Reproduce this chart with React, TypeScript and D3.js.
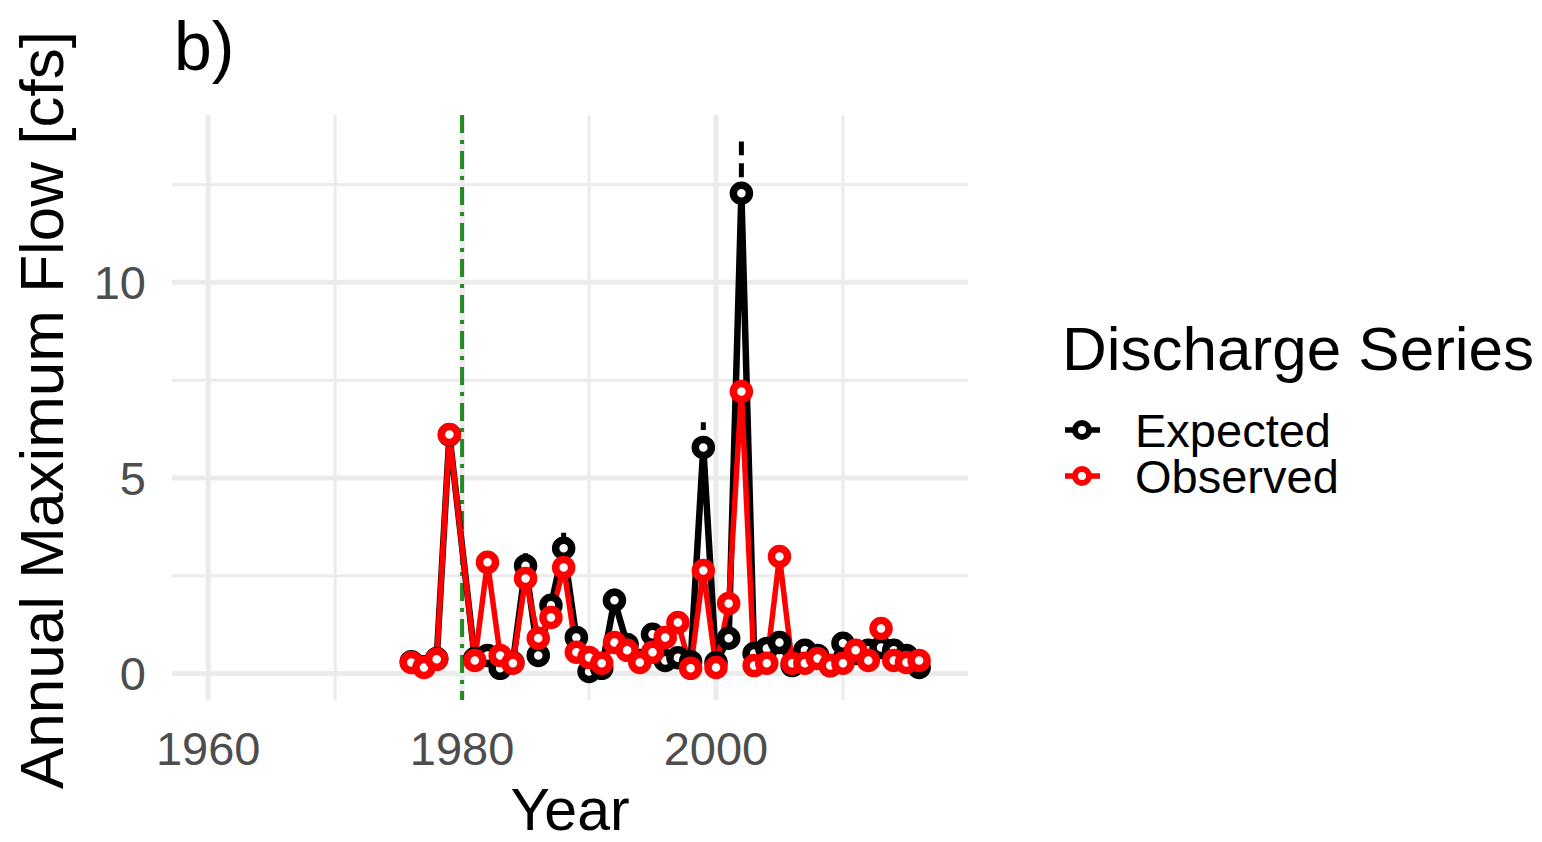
import React from "react";
import * as d3 from "d3";

// Annual maximum discharge series
const years = [
  1976, 1977, 1978, 1979, 1981, 1982, 1983, 1984, 1985, 1986, 1987, 1988, 1989, 1990,
  1991, 1992, 1993, 1994, 1995, 1996, 1997, 1998, 1999, 2000, 2001, 2002, 2003, 2004,
  2005, 2006, 2007, 2008, 2009, 2010, 2011, 2012, 2013, 2014, 2015, 2016,
];
const observed = [
  0.28, 0.15, 0.36, 6.11, 0.33, 2.84, 0.46, 0.26, 2.43, 0.9, 1.43, 2.71, 0.54, 0.41,
  0.26, 0.79, 0.59, 0.28, 0.54, 0.92, 1.3, 0.13, 2.63, 0.15, 1.79, 7.21, 0.2, 0.26,
  2.99, 0.26, 0.26, 0.38, 0.2, 0.26, 0.59, 0.33, 1.15, 0.33, 0.28, 0.33,
];
const expected = [
  0.3, 0.17, 0.38, 6.1, 0.38, 0.46, 0.13, 0.28, 2.75, 0.46, 1.74, 3.2, 0.92, 0.05,
  0.13, 1.87, 0.74, 0.33, 1.0, 0.33, 0.4, 0.3, 5.78, 0.28, 0.9, 12.28, 0.51, 0.64,
  0.79, 0.2, 0.59, 0.46, 0.2, 0.77, 0.51, 0.59, 0.66, 0.59, 0.46, 0.15,
];
const expectedUpper = [
  0.33, 0.19, 0.42, 6.3, 0.42, 0.51, 0.15, 0.31, 3.07, 0.51, 1.92, 3.6, 1.02, 0.06,
  0.15, 2.17, 0.82, 0.37, 1.1, 0.37, 0.44, 0.33, 6.42, 0.31, 1.0, 13.6, 0.57, 0.71,
  0.88, 0.22, 0.65, 0.51, 0.22, 0.85, 0.57, 0.65, 0.73, 0.65, 0.51, 0.17,
];
const expectedLower = [
  0.27, 0.15, 0.34, 5.9, 0.34, 0.41, 0.11, 0.25, 2.45, 0.41, 1.56, 2.8, 0.82, 0.04,
  0.11, 1.6, 0.66, 0.29, 0.9, 0.29, 0.36, 0.27, 5.1, 0.25, 0.8, 11.0, 0.45, 0.57,
  0.7, 0.18, 0.53, 0.41, 0.18, 0.69, 0.45, 0.53, 0.59, 0.53, 0.41, 0.13,
];

const xMajor = [1960, 1980, 2000];
const xMinor = [1970, 1990, 2010];
const yMajor = [0, 5, 10];
const yMinor = [2.5, 7.5, 12.5];
const changeYear = 1980;

const seriesNames = ["Expected", "Observed"];
const seriesColors = ["#000000", "#FF0000"];

const W = 1542;
const H = 842;
const panel = { left: 172, right: 968, top: 115, bottom: 700 };
const FONT = "'Liberation Sans', Arial, sans-serif";

export default function App() {
  const x = d3.scaleLinear().domain([1957.15, 2019.85]).range([panel.left, panel.right]);
  const y = d3.scaleLinear().domain([-0.68, 14.28]).range([panel.bottom, panel.top]);

  const line = d3
    .line<number>()
    .x((_, i) => x(years[i]))
    .y((v) => y(v));

  const series = [expected, observed];

  return (
    <svg
      width={W}
      height={H}
      style={{ position: "absolute", left: 0, top: 0, background: "#fff" }}
      fontFamily={FONT}
    >
      {/* grid */}
      {yMinor.map((v) => (
        <line key={"ym" + v} x1={panel.left} x2={panel.right} y1={y(v)} y2={y(v)} stroke="#EBEBEB" strokeWidth={3} />
      ))}
      {xMinor.map((v) => (
        <line key={"xm" + v} x1={x(v)} x2={x(v)} y1={panel.top} y2={panel.bottom} stroke="#EBEBEB" strokeWidth={3} />
      ))}
      {yMajor.map((v) => (
        <line key={"yM" + v} x1={panel.left} x2={panel.right} y1={y(v)} y2={y(v)} stroke="#EBEBEB" strokeWidth={5} />
      ))}
      {xMajor.map((v) => (
        <line key={"xM" + v} x1={x(v)} x2={x(v)} y1={panel.top} y2={panel.bottom} stroke="#EBEBEB" strokeWidth={5} />
      ))}

      {/* change-point marker */}
      <line
        x1={x(changeYear)}
        x2={x(changeYear)}
        y1={panel.top}
        y2={panel.bottom}
        stroke="#228B22"
        strokeWidth={4}
        strokeDasharray="18 7 4 7"
      />

      {/* expected range */}
      {years.map((yr, i) => (
        <line
          key={"er" + yr}
          x1={x(yr)}
          x2={x(yr)}
          y1={y(expectedLower[i])}
          y2={y(expectedUpper[i])}
          stroke="#000"
          strokeWidth={5}
          strokeDasharray="14 8"
        />
      ))}

      {/* series lines */}
      {series.map((s, k) => (
        <path key={"l" + k} d={line(s) || ""} fill="none" stroke={seriesColors[k]} strokeWidth={k === 0 ? 6.5 : 5.5} strokeLinejoin="round" />
      ))}

      {/* series points */}
      {series.map((s, k) => (
        <g key={"p" + k}>
          {s.map((v, i) => (
            <circle key={i} cx={x(years[i])} cy={y(v)} r={8} fill="#fff" stroke={seriesColors[k]} strokeWidth={7.5} />
          ))}
        </g>
      ))}

      {/* axes labels */}
      {yMajor.map((v) => (
        <text key={"yt" + v} x={146} y={y(v)} dy="0.36em" textAnchor="end" fontSize={47} fill="#4D4D4D">
          {v}
        </text>
      ))}
      {xMajor.map((v) => (
        <text key={"xt" + v} x={x(v)} y={765} textAnchor="middle" fontSize={47} fill="#4D4D4D">
          {v}
        </text>
      ))}

      <text x={x(1988.5)} y={830} textAnchor="middle" fontSize={59} fill="#000">
        Year
      </text>
      <text
        transform={`translate(63, ${(30 + 790) / 2}) rotate(-90)`}
        textAnchor="middle"
        fontSize={62}
        fill="#000"
      >
        Annual Maximum Flow [cfs]
      </text>

      <text x={174} y={70} fontSize={68} fill="#000">
        b)
      </text>

      {/* legend */}
      <text x={1062} y={370} fontSize={62} fill="#000">
        Discharge Series
      </text>
      {seriesNames.map((name, k) => {
        const cy = 430 + k * 46;
        return (
          <g key={name}>
            <line x1={1065} x2={1100} y1={cy} y2={cy} stroke={seriesColors[k]} strokeWidth={5.5} />
            <circle cx={1082} cy={cy} r={7} fill="#fff" stroke={seriesColors[k]} strokeWidth={6} />
            <text x={1135} y={cy} dy="0.36em" fontSize={47} fill="#000">
              {name}
            </text>
          </g>
        );
      })}
    </svg>
  );
}
